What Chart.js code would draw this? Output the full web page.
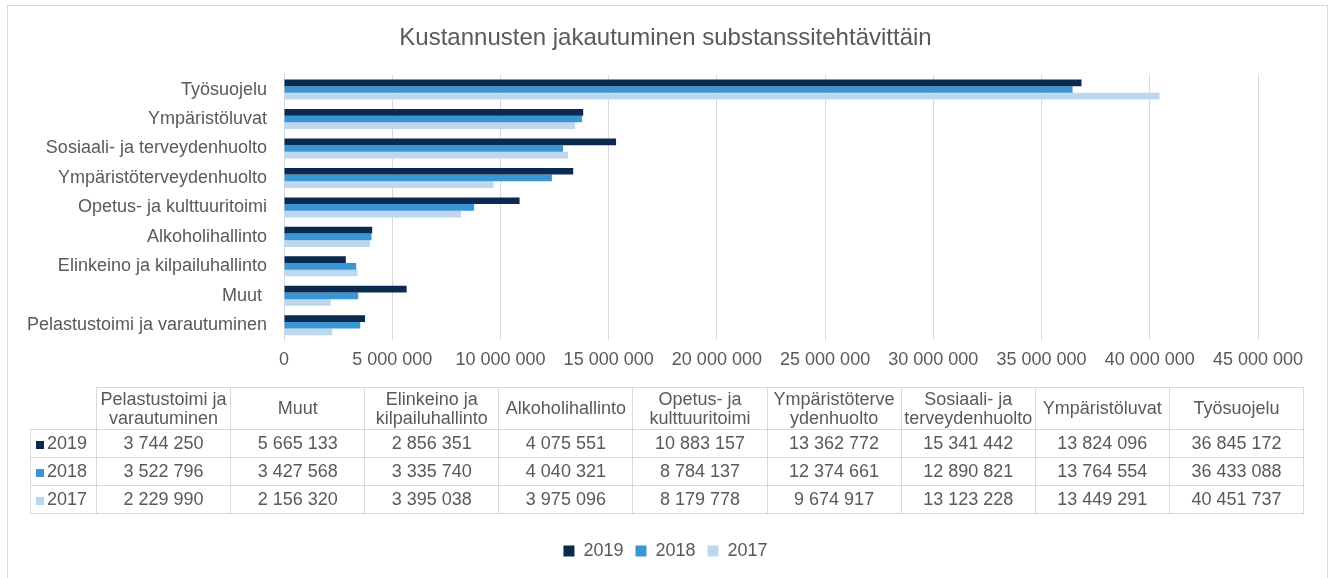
<!DOCTYPE html>
<html>
<head>
<meta charset="utf-8">
<script src="https://cdn.jsdelivr.net/npm/chart.js@4.4.1/dist/chart.umd.min.js"></script>
<style>
    body { margin: 0; background: #fff; font-family: 'Liberation Sans', Arial, sans-serif; }
    #wrap { position: relative; width: 1331px; height: 578px; overflow: hidden; }
    #frame { position: absolute; left: 7px; top: 5px; width: 1319px; height: 600px; border: 1px solid #d9d9d9; }
    #chart { position: absolute; left: 0; top: 0; }
    #tbl { position: absolute; left: 30px; top: 387px; border-collapse: collapse; table-layout: fixed; width: 1274px; color: #595959; font-size: 18px; }
    #tbl td, #tbl th { border: 1px solid #d9d9d9; text-align: center; font-weight: normal; padding: 0; white-space: nowrap; }
    #tbl th { height: 41px; line-height: 19px; white-space: normal; }
    #tbl th.corner { border-top: none; border-left: none; }
    #tbl td { height: 27px; }
    #tbl td.key { text-align: left; padding-left: 5px; }
    .sq { display: inline-block; width: 8px; height: 8px; margin-right: 3px; }
</style>
</head>
<body>
<div id="wrap">
    <div id="frame"></div>
    <canvas id="chart" width="1331" height="578"></canvas>
    <table id="tbl"></table>
</div>
<script>
const categories = ['Pelastustoimi ja varautuminen', 'Muut ', 'Elinkeino ja kilpailuhallinto', 'Alkoholihallinto',
    'Opetus- ja kulttuuritoimi', 'Ympäristöterveydenhuolto', 'Sosiaali- ja terveydenhuolto', 'Ympäristöluvat', 'Työsuojelu'];
// same names as wrapped in the table header
const tableHeaders = ['Pelastustoimi ja varautuminen', 'Muut', 'Elinkeino ja kilpailuhallinto', 'Alkoholihallinto',
    'Opetus- ja kulttuuritoimi', 'Ympäristöterve<wbr>ydenhuolto', 'Sosiaali- ja terveydenhuolto', 'Ympäristöluvat', 'Työsuojelu'];
const years = ['2019', '2018', '2017'];
const values2019 = [3744250, 5665133, 2856351, 4075551, 10883157, 13362772, 15341442, 13824096, 36845172];
const values2018 = [3522796, 3427568, 3335740, 4040321, 8784137, 12374661, 12890821, 13764554, 36433088];
const values2017 = [2229990, 2156320, 3395038, 3975096, 8179778, 9674917, 13123228, 13449291, 40451737];
const colors = ['#0b2a4f', '#3a95d3', '#bdd8ee'];
const seriesValues = [values2019, values2018, values2017];

const textColor = '#595959';
const gridColor = '#d9d9d9';

// 5000000 -> "5 000 000"
function fmt(v) {
    return String(v).replace(/\B(?=(\d{3})+(?!\d))/g, ' ');
}

Chart.defaults.font.family = "'Liberation Sans', Arial, sans-serif";
Chart.defaults.color = textColor;

// chart shows the categories from top to bottom in reverse table order
let datasets = years.map((y, i) => ({
    label: y,
    data: seriesValues[i].slice().reverse(),
    backgroundColor: colors[i],
    borderWidth: 0,
    categoryPercentage: 0.68,
    barPercentage: 1.0,
}));

let ctx = document.getElementById('chart').getContext('2d');
let myChart = new Chart(ctx, {
    type: 'bar',
    data: {
        labels: categories.slice().reverse(),
        datasets: datasets,
    },
    options: {
        indexAxis: 'y',
        responsive: false,
        animation: false,
        devicePixelRatio: 1,
        layout: { padding: { top: 0, left: 0, right: 0, bottom: 8 } },
        plugins: {
            title: {
                display: true,
                text: 'Kustannusten jakautuminen substanssitehtävittäin',
                color: textColor,
                font: { size: 24, weight: 'normal' },
                padding: { top: 24, bottom: 22 },
            },
            legend: {
                position: 'bottom',
                onClick: (e) => e.stopPropagation(),
                labels: {
                    boxWidth: 11,
                    boxHeight: 11,
                    padding: 12,
                    color: textColor,
                    font: { size: 18 },
                },
            },
            tooltip: { enabled: false },
        },
        scales: {
            x: {
                min: 0,
                max: 45000000,
                grid: { color: gridColor, drawTicks: false },
                border: { display: false },
                ticks: {
                    stepSize: 5000000,
                    padding: 9,
                    maxRotation: 0,
                    autoSkip: false,
                    font: { size: 18 },
                    color: textColor,
                    callback: (v) => fmt(v),
                },
                afterFit: (scale) => {
                    scale.height = 190;
                    scale.paddingLeft = 0;
                    scale.paddingRight = 0;
                },
            },
            y: {
                grid: { display: false, drawTicks: false },
                border: { display: true, color: gridColor },
                ticks: { padding: 17, font: { size: 18 }, color: textColor },
                afterFit: (scale) => {
                    scale.width = 284;
                    scale.paddingTop = 0;
                    scale.paddingBottom = 0;
                },
            },
            // empty space right of the plot, keeps title and legend centred on the whole picture
            rightGap: {
                type: 'linear',
                axis: 'y',
                position: 'right',
                grid: { display: false, drawTicks: false },
                border: { display: false },
                ticks: { display: false },
                afterFit: (scale) => {
                    scale.width = 73;
                    scale.paddingTop = 0;
                    scale.paddingBottom = 0;
                },
            },
        },
    },
});

// data table under the chart
function buildTable() {
    let tbl = document.getElementById('tbl');
    let html = '<colgroup><col style="width:66px">';
    categories.forEach(() => html += '<col>');
    html += '</colgroup><tr><th class="corner"></th>';
    tableHeaders.forEach(c => html += '<th>' + c + '</th>');
    html += '</tr>';
    years.forEach((y, i) => {
        html += '<tr><td class="key"><span class="sq" style="background:' + colors[i] + '"></span>' + y + '</td>';
        seriesValues[i].forEach(v => html += '<td>' + fmt(v) + '</td>');
        html += '</tr>';
    });
    tbl.innerHTML = html;
}
buildTable();
</script>
</body>
</html>
